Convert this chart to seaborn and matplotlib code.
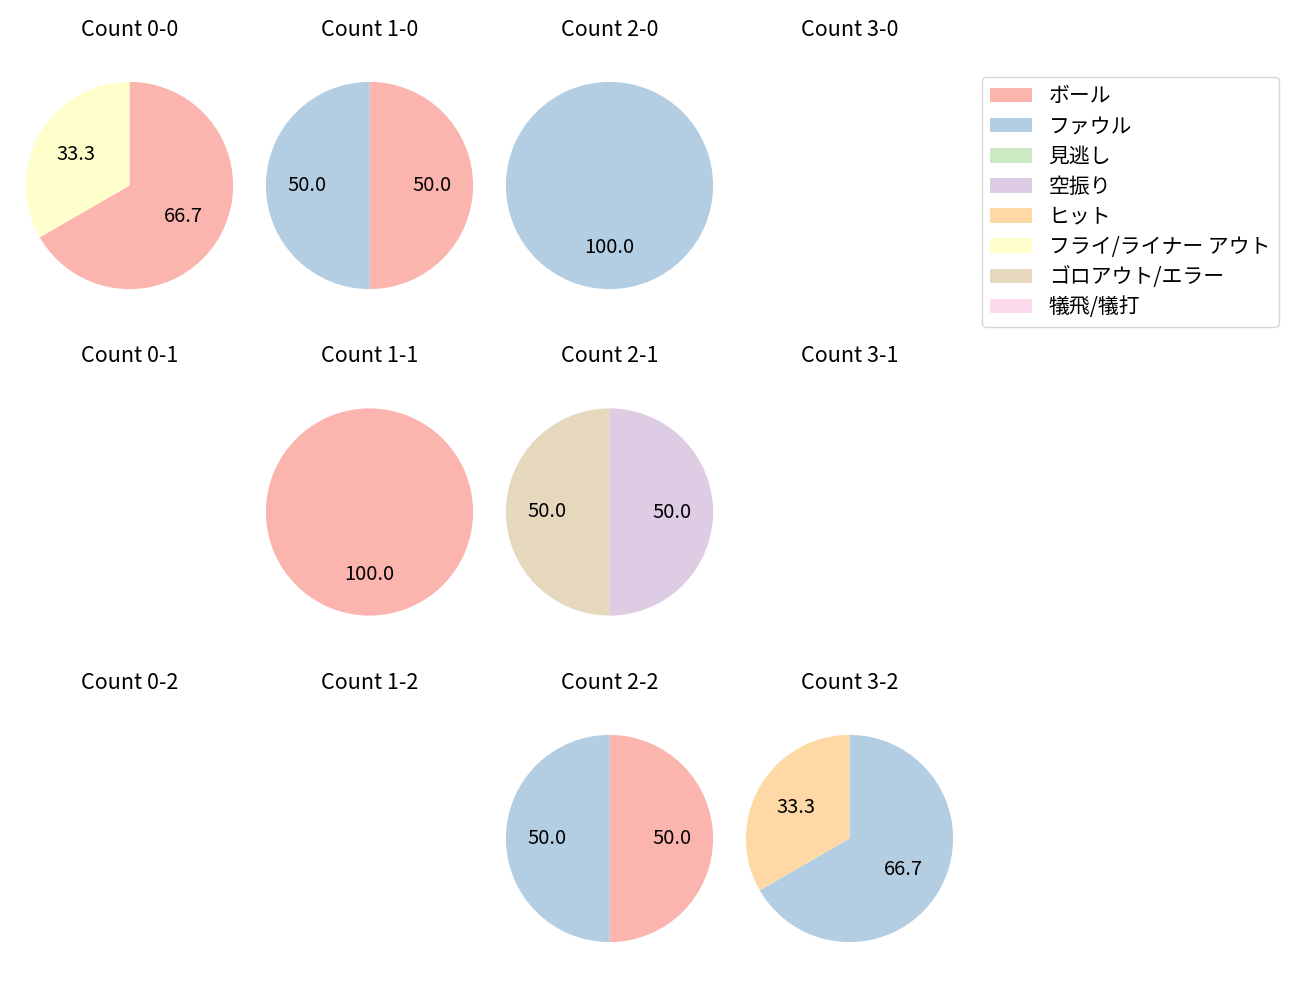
import matplotlib
matplotlib.use("Agg")
import matplotlib.pyplot as plt
import matplotlib.patches as mpatches
import seaborn as sns

sns.set_style("white")
plt.rcParams['font.family'] = ['Noto Sans CJK JP', 'DejaVu Sans']
plt.rcParams['text.color'] = 'black'

categories = ["ボール", "ファウル", "見逃し", "空振り", "ヒット",
              "フライ/ライナー アウト", "ゴロアウト/エラー", "犠飛/犠打"]
balls = [0, 1, 2, 3]
strikes = [0, 1, 2]

# counts per category for each ball-strike count
count_0_0 = [2, 0, 0, 0, 0, 1, 0, 0]
count_1_0 = [1, 1, 0, 0, 0, 0, 0, 0]
count_2_0 = [0, 1, 0, 0, 0, 0, 0, 0]
count_3_0 = [0, 0, 0, 0, 0, 0, 0, 0]
count_0_1 = [0, 0, 0, 0, 0, 0, 0, 0]
count_1_1 = [1, 0, 0, 0, 0, 0, 0, 0]
count_2_1 = [0, 0, 0, 1, 0, 0, 1, 0]
count_3_1 = [0, 0, 0, 0, 0, 0, 0, 0]
count_0_2 = [0, 0, 0, 0, 0, 0, 0, 0]
count_1_2 = [0, 0, 0, 0, 0, 0, 0, 0]
count_2_2 = [1, 1, 0, 0, 0, 0, 0, 0]
count_3_2 = [0, 2, 0, 0, 1, 0, 0, 0]

data = {
    (0, 0): count_0_0, (1, 0): count_1_0, (2, 0): count_2_0, (3, 0): count_3_0,
    (0, 1): count_0_1, (1, 1): count_1_1, (2, 1): count_2_1, (3, 1): count_3_1,
    (0, 2): count_0_2, (1, 2): count_1_2, (2, 2): count_2_2, (3, 2): count_3_2,
}

colors = sns.color_palette("Pastel1", len(categories))

W, H = 1300, 1000
fig, axes = plt.subplots(3, 4, figsize=(13, 10), dpi=100)

col_cx = [129.5, 369.5, 609.5, 849.5]
row_cy = [185.5, 512.0, 838.5]
side = 259.0

for s in strikes:
    for b in balls:
        ax = axes[s][b]
        cx, cy = col_cx[b], row_cy[s]
        ax.set_position([(cx - side / 2) / W, 1 - (cy + side / 2) / H, side / W, side / H])
        vals = data[(b, s)]
        idx = [i for i, v in enumerate(vals) if v > 0]
        if idx:
            ax.pie([vals[i] for i in idx], colors=[colors[i] for i in idx],
                   startangle=90, counterclock=False, autopct='%.1f',
                   wedgeprops={'linewidth': 0},
                   textprops={'fontsize': 14.5, 'color': 'black'})
        ax.set_xlim(-1.25, 1.25)
        ax.set_ylim(-1.25, 1.25)
        ax.set_aspect('equal')
        ax.axis('off')
        ax.set_title(f"Count {b}-{s}", fontsize=15.5, pad=14.5, color='black')

handles = [mpatches.Patch(color=colors[i], label=c, linewidth=0) for i, c in enumerate(categories)]
leg = fig.legend(handles=handles, loc='upper left', bbox_to_anchor=(982 / W, 1 - 77 / H),
                 borderaxespad=0, fontsize=15, labelspacing=0.39,
                 frameon=True, edgecolor='#cccccc')
for t in leg.get_texts():
    t.set_color('black')

fig.savefig("out.png", dpi=100)
